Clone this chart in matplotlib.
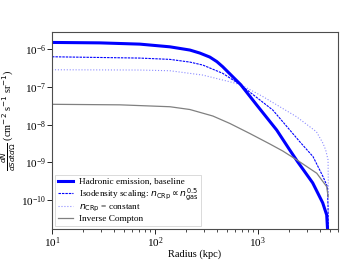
import matplotlib
matplotlib.use("Agg")
import matplotlib.pyplot as plt

plt.rcParams['font.family'] = ['Liberation Serif', 'DejaVu Serif']

# radius (kpc) and surface brightness
r_base = [10, 29.2, 71.4, 140, 219, 273, 342, 400, 457, 684, 977, 1528, 2046, 2445, 3418,
          4277, 4677, 4834]
f_base = [1.53e-6, 1.49e-6, 1.38e-6, 1.17e-6, 9.6e-7, 8.0e-7, 6.25e-7, 4.74e-7, 3.45e-7,
          1.15e-7, 3.33e-8, 7.2e-9, 2.13e-9, 1.03e-9, 2.85e-10, 8.4e-11, 4.0e-11, 8.7e-12]

r_iso = [10, 71.4, 140, 219, 292, 457, 684, 1400, 2558, 3444, 4306, 4750, 4820, 4840]
f_iso = [6.37e-7, 5.88e-7, 5.43e-7, 4.6e-7, 3.84e-7, 2.31e-7, 1.13e-7, 2.45e-8, 3.54e-9,
         1.42e-9, 4.18e-10, 2.26e-10, 6.7e-11, 1.6e-11]

r_const = [10, 71.4, 140, 292, 535, 684, 1119, 2378, 3716, 4306, 4573, 4820, 4864]
f_const = [2.88e-7, 2.83e-7, 2.71e-7, 2.08e-7, 1.38e-7, 1.15e-7, 5.6e-8, 1.63e-8, 6.5e-9,
           3.2e-9, 2.13e-9, 1.16e-9, 1.23e-10]

r_ic = [10, 45.7, 140, 219, 366, 535, 836, 1309, 1750, 2445, 3744, 4677, 4834]
f_ic = [3.48e-8, 3.37e-8, 3.0e-8, 2.53e-8, 1.7e-8, 1.08e-8, 5.85e-9, 3.08e-9, 2.0e-9,
        1.12e-9, 5.14e-10, 2.26e-10, 1.21e-10]

xticks = [10, 100, 1000]
yticks = [1e-10, 1e-9, 1e-8, 1e-7, 1e-6]

fig = plt.figure(figsize=(3.49, 2.62), dpi=100)
ax = fig.add_axes([0.149, 0.126, 0.819, 0.753])

ax.plot(r_base, f_base, color='blue', lw=2.2, label='Hadronic emission, baseline')
ax.plot(r_iso, f_iso, color='blue', lw=0.8, ls='--', dashes=(2.2, 0.9),
        label=r'Isodensity scaling: $n_{\rm CRp} \propto n_{\rm gas}^{0.5}$')
ax.plot(r_const, f_const, color='blue', lw=0.8, ls=':', alpha=0.45,
        label=r'$n_{\rm CRp}$ = constant')
ax.plot(r_ic, f_ic, color='gray', lw=0.9, label='Inverse Compton')

ax.set_xscale('log')
ax.set_yscale('log')
ax.set_xticks(xticks)
ax.set_yticks(yticks)
ax.yaxis.set_minor_locator(matplotlib.ticker.NullLocator())
ax.set_xlim(10, 6000)
ax.set_ylim(1.7e-11, 2.95e-6)

ax.set_xlabel('Radius (kpc)', fontsize=7.5, labelpad=0)
ax.set_ylabel(r'$\frac{dN}{dSdtd\Omega}$ (cm$^{-2}$ s$^{-1}$ sr$^{-1}$)', fontsize=7.5)
ax.yaxis.set_label_coords(-0.118, 0.55)
ax.tick_params(labelsize=8, width=0.6, length=3.5, pad=0.8)
ax.tick_params(which='minor', width=0.5, length=2)
for s in ax.spines.values():
    s.set_color('0.3')
    s.set_linewidth(0.8)

leg = ax.legend(loc='lower left', fontsize=6.7, handlelength=1.7, handletextpad=0.55,
                labelspacing=0.08, borderpad=0.3, borderaxespad=0.3,
                framealpha=1, fancybox=False)
leg.get_frame().set_linewidth(0.5)

fig.savefig('out.png', dpi=100)
